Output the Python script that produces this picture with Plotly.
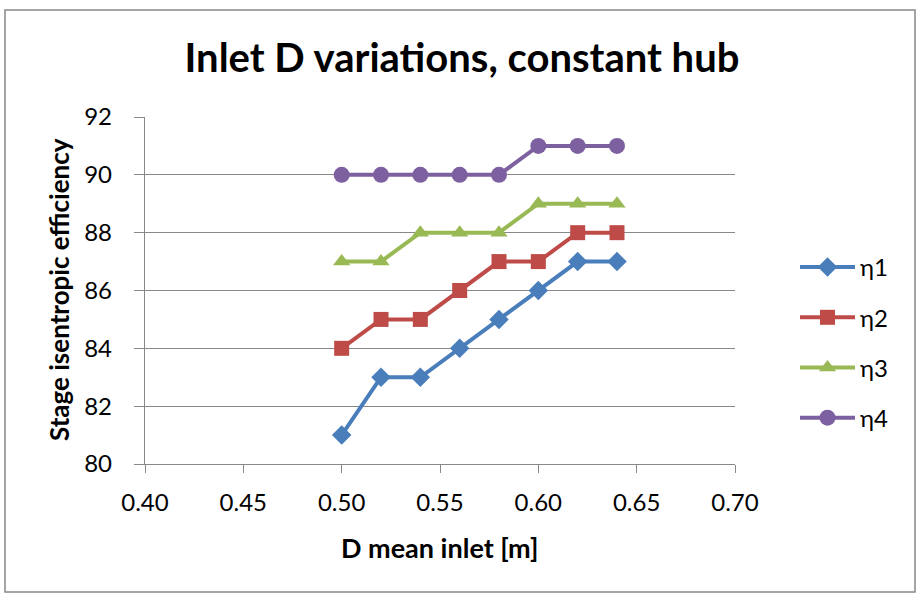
import plotly.graph_objects as go

x_vals = [0.50, 0.52, 0.54, 0.56, 0.58, 0.60, 0.62, 0.64]
eta1 = [81, 83, 83, 84, 85, 86, 87, 87]
eta2 = [84, 85, 85, 86, 87, 87, 88, 88]
eta3 = [87, 87, 88, 88, 88, 89, 89, 89]
eta4 = [90, 90, 90, 90, 90, 91, 91, 91]
names = ["η1", "η2", "η3", "η4"]
colors = ["#4A7EBB", "#BE4B48", "#98B954", "#7D60A0"]
symbols = ["diamond", "square", "triangle-up", "circle"]
sizes = [15, 15, 15, 16]

W, H = 917, 594
L, R, T, B = 145, 735, 117, 464

fig = go.Figure()
for i, ys in enumerate([eta1, eta2, eta3, eta4]):
    fig.add_trace(go.Scatter(
        x=x_vals, y=ys, name=names[i], mode="lines+markers",
        line=dict(color=colors[i], width=4),
        marker=dict(symbol=symbols[i], size=sizes[i], color=colors[i]),
        legendgroup=names[i],
    ))

font = "Lato, 'Open Sans', sans-serif"
pw, ph = R - L, B - T
fig.update_layout(
    width=W, height=H,
    margin=dict(l=L, r=W - R, t=T, b=H - B),
    paper_bgcolor="white", plot_bgcolor="white",
    font=dict(family=font, color="black", size=24),
    title=dict(text="<b>Inlet D variations, constant hub</b>", x=(462 - L) / pw, xanchor="center",
               xref="paper", y=1 - 58 / H, yanchor="middle", font=dict(size=40, family=font)),
    xaxis=dict(range=[0.40, 0.70], dtick=0.05, tickformat=".2f",
               showgrid=False, zeroline=False, showline=True, linecolor="#888888", linewidth=1.3,
               ticks="outside", ticklen=8, tickcolor="#888888", ticklabelstandoff=9,
               tickfont=dict(size=24)),
    yaxis=dict(range=[80, 92], dtick=2,
               showgrid=True, gridcolor="#888888", gridwidth=1, zeroline=False,
               showline=True, linecolor="#888888", linewidth=1.3,
               ticks="outside", ticklen=10, tickcolor="#888888", ticklabelstandoff=17,
               tickfont=dict(size=24)),
    legend=dict(x=(795 - L) / pw, y=1 - (245 - T) / ph, xanchor="left", yanchor="top",
                font=dict(size=24), itemwidth=55, tracegroupgap=16, traceorder="grouped",
                bgcolor="rgba(0,0,0,0)"),
    annotations=[
        dict(text="<b>D mean inlet [m]</b>", xref="paper", yref="paper",
             x=(439 - L) / pw, y=1 - (547 - T) / ph, xanchor="center", yanchor="middle",
             showarrow=False, font=dict(size=27)),
        dict(text="<b>Stage isentropic efficiency</b>", xref="paper", yref="paper",
             x=(59 - L) / pw, y=1 - (290 - T) / ph, xanchor="center", yanchor="middle",
             textangle=-90, showarrow=False, font=dict(size=26)),
    ],
    shapes=[dict(type="rect", xref="paper", yref="paper",
                 x0=(5 - L) / pw, x1=(915 - L) / pw,
                 y0=1 - (592 - T) / ph, y1=1 - (10 - T) / ph,
                 line=dict(color="#888888", width=1.5), layer="below")],
)

fig.write_html("out.html")
